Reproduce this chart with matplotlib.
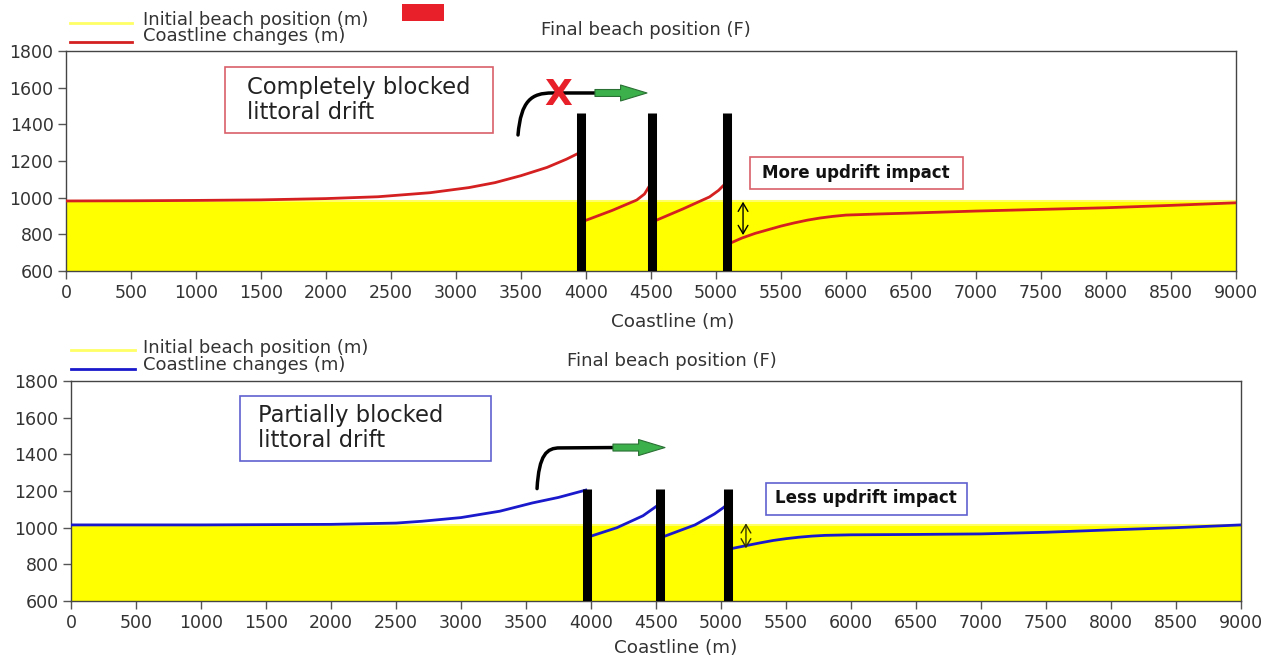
import matplotlib.pyplot as plt
from matplotlib.patches import Rectangle, PathPatch
from matplotlib.path import Path
from matplotlib.lines import Line2D

# x positions / values (m)
x_ticks = list(range(0, 9001, 500))
y_ticks = list(range(600, 1801, 200))

# top panel: completely blocked drift
top_initial = 982
top_groynes = [3962, 4508, 5085]
top_groyne_top = 1462
red_x = [[0, 500, 1000, 1500, 2000, 2400, 2800, 3100, 3300, 3500, 3700, 3850, 3950],
         [4005, 4200, 4390, 4450, 4480, 4495],
         [4545, 4750, 4950, 5020, 5055, 5070],
         [5120, 5200, 5300, 5400, 5500, 5600, 5700, 5800, 5900, 6000, 6250, 6500,
          7000, 7500, 8000, 8500, 9000]]
red_y = [[982, 983, 985, 988, 995, 1005, 1027, 1055, 1082, 1120, 1165, 1210, 1245],
         [878, 930, 987, 1020, 1055, 1072],
         [878, 940, 1004, 1040, 1065, 1075],
         [755, 780, 805, 825, 845, 862, 877, 889, 898, 905, 911, 916,
          927, 936, 945, 958, 972]]

# bottom panel: partially blocked drift
bot_initial = 1015
bot_groynes = [3969, 4531, 5054]
bot_groyne_top = 1210
blue_x = [[0, 1000, 2000, 2500, 2700, 3000, 3300, 3550, 3750, 3960],
          [4005, 4200, 4400, 4480, 4520],
          [4565, 4800, 4950, 5020, 5045],
          [5095, 5200, 5300, 5400, 5500, 5600, 5700, 5800, 6000, 6500, 7000, 7500,
           8000, 8500, 9000]]
blue_y = [[1015, 1015, 1018, 1025, 1035, 1055, 1090, 1135, 1165, 1205],
          [955, 1000, 1065, 1105, 1125],
          [953, 1015, 1075, 1110, 1125],
          [888, 903, 917, 930, 940, 948, 954, 958, 961, 963, 966, 975,
           988, 1000, 1015]]

W, H = 1274, 662


def fx(x):
    return x / W


def fy(y):
    return 1 - y / H


fig = plt.figure(figsize=(W / 100, H / 100), dpi=100)
ax1 = fig.add_axes([fx(66), fy(271), 1170 / W, 220 / H])
ax2 = fig.add_axes([fx(71), fy(601), 1170 / W, 220 / H])


def setup(ax):
    ax.set_xlim(0, 9000)
    ax.set_ylim(600, 1800)
    ax.set_xticks(x_ticks)
    ax.set_yticks(y_ticks)
    ax.tick_params(direction='out', length=6, width=1, color='#555555',
                   labelsize=12.5, labelcolor='#333333', pad=3)
    for s in ax.spines.values():
        s.set_color('#444444')
        s.set_linewidth(1)


def draw_panel(ax, initial, xs, ys, color, groynes, gtop):
    ax.fill_between([0, 9000], 600, [initial, initial], color='#ffff00', lw=0, zorder=1)
    ax.plot([0, 9000], [initial, initial], color='#ffff66', lw=1.5, zorder=2)
    for sx, sy in zip(xs, ys):
        ax.plot(sx, sy, color=color, lw=2, zorder=3)
    ax.vlines(groynes, 600, gtop, color='black', lw=6.5, zorder=4)


def drift_arrow(ax, p0, p1, p2, p3, end, tip):
    path = Path([p0, p1, p2, p3, end],
                [Path.MOVETO, Path.CURVE4, Path.CURVE4, Path.CURVE4, Path.LINETO])
    ax.add_patch(PathPatch(path, fc='none', ec='black', lw=2.5, capstyle='round', zorder=5))
    ax.annotate('', xy=tip, xytext=end,
                arrowprops=dict(arrowstyle='simple,head_length=1.9,head_width=1.15,tail_width=0.5',
                                fc='#3cb04a', ec='#2a7034', lw=0.8, shrinkA=0, shrinkB=0),
                zorder=6)


setup(ax1)
setup(ax2)
draw_panel(ax1, top_initial, red_x, red_y, '#d42020', top_groynes, top_groyne_top)
draw_panel(ax2, bot_initial, blue_x, blue_y, '#1a1acc', bot_groynes, bot_groyne_top)

# drift arrows
drift_arrow(ax1, (3477, 1342), (3500, 1530), (3580, 1571), (3740, 1571),
            (4069, 1571), (4469, 1571))
ax1.text(3783, 1562, 'X', color='#e8202a', fontsize=26, fontweight='bold',
         ha='center', va='center', zorder=7)
drift_arrow(ax2, (3585, 1213), (3600, 1400), (3660, 1435), (3760, 1435),
            (4169, 1437), (4569, 1437))

# updrift impact arrows
ax1.annotate('', xy=(5208, 978), xytext=(5208, 796),
             arrowprops=dict(arrowstyle='<->,head_length=0.6,head_width=0.35',
                             lw=1, color='black', shrinkA=0, shrinkB=0))
ax2.annotate('', xy=(5192, 1024), xytext=(5192, 887),
             arrowprops=dict(arrowstyle='<->,head_length=0.6,head_width=0.35',
                             lw=1, color='#333300', shrinkA=0, shrinkB=0))


def box(x0, y0, x1, y1, ec):
    fig.add_artist(Rectangle((fx(x0), fy(y1)), (x1 - x0) / W, (y1 - y0) / H,
                             transform=fig.transFigure, fc='white', ec=ec, lw=1.2, zorder=8))


box(225, 67, 493, 133, '#d9606a')
fig.text(fx(247), fy(100), 'Completely blocked\nlittoral drift', fontsize=16.3,
         color='#222222', ha='left', va='center', linespacing=1.1, zorder=9)
box(240, 396, 491, 461, '#6060d0')
fig.text(fx(258), fy(428), 'Partially blocked\nlittoral drift', fontsize=16.3,
         color='#222222', ha='left', va='center', linespacing=1.1, zorder=9)
box(750, 157, 963, 189, '#d9606a')
fig.text(fx(856), fy(173), 'More updrift impact', fontsize=12, fontweight='bold',
         color='#111111', ha='center', va='center', zorder=9)
box(766, 483, 967, 515, '#6060d0')
fig.text(fx(866), fy(498), 'Less updrift impact', fontsize=12, fontweight='bold',
         color='#111111', ha='center', va='center', zorder=9)

# legends
fig.add_artist(Line2D([fx(70), fx(132)], [fy(22.7)] * 2, color='#ffff66', lw=2))
fig.add_artist(Line2D([fx(70), fx(132)], [fy(41.7)] * 2, color='#d42020', lw=2))
fig.text(fx(143), fy(20), 'Initial beach position (m)', fontsize=13, color='#333333', va='center')
fig.text(fx(143), fy(36), 'Coastline changes (m)', fontsize=13, color='#333333', va='center')
fig.add_artist(Rectangle((fx(402), fy(21)), 42 / W, 17 / H, transform=fig.transFigure,
                         fc='#e8202a', ec='none'))

fig.add_artist(Line2D([fx(71), fx(135)], [fy(350)] * 2, color='#ffff66', lw=2))
fig.add_artist(Line2D([fx(71), fx(135)], [fy(369)] * 2, color='#1a1acc', lw=2))
fig.text(fx(143), fy(348), 'Initial beach position (m)', fontsize=13, color='#333333', va='center')
fig.text(fx(143), fy(365), 'Coastline changes (m)', fontsize=13, color='#333333', va='center')

# titles and axis labels
fig.text(fx(646), fy(30), 'Final beach position (F)', fontsize=13, color='#333333',
         ha='center', va='center')
fig.text(fx(672), fy(361), 'Final beach position (F)', fontsize=13, color='#333333',
         ha='center', va='center')
fig.text(fx(673), fy(322), 'Coastline (m)', fontsize=13.2, color='#333333',
         ha='center', va='center')
fig.text(fx(676), fy(648), 'Coastline (m)', fontsize=13.2, color='#333333',
         ha='center', va='center')

fig.savefig('out.png', dpi=100)
